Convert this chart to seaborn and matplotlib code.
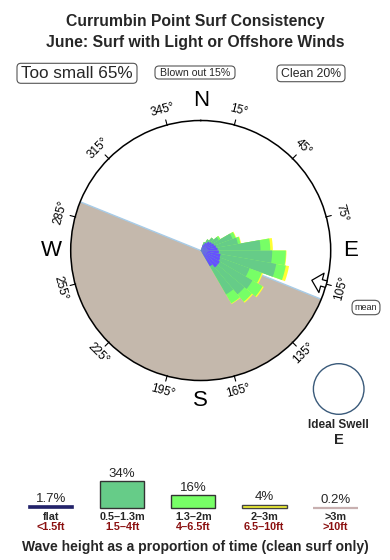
import numpy as np
import pandas as pd
import matplotlib
matplotlib.use("Agg")
import matplotlib.pyplot as plt
import seaborn as sns
from matplotlib.patches import FancyBboxPatch, Ellipse

# ---------------- data ----------------
title_lines = ["Currumbin Point Surf Consistency",
               "June: Surf with Light or Offshore Winds"]
status_labels = ["Too small 65%", "Blown out 15%", "Clean 20%"]

# swell direction bins (degrees, compass) and cumulative radii (fraction of rose radius)
dir_centers = [25, 35, 45, 55, 65, 75, 85, 95, 105, 115, 125, 135, 145]
r_flat  = [0.05, 0.07, 0.09, 0.10, 0.11, 0.12, 0.13, 0.14, 0.155, 0.16, 0.17, 0.17, 0.14]
r_small = [0.07, 0.10, 0.13, 0.16, 0.26, 0.29, 0.46, 0.55, 0.59, 0.40, 0.46, 0.44, 0.39]
r_mid   = [0.07, 0.10, 0.13, 0.175, 0.285, 0.31, 0.535, 0.655, 0.665, 0.50, 0.55, 0.515, 0.47]
r_big   = [0.07, 0.10, 0.13, 0.175, 0.29, 0.315, 0.555, 0.66, 0.69, 0.51, 0.56, 0.525, 0.475]

land_start, land_end = 112, 292
mean_dir = 105
ideal_label = "E"
tick_bearings = [15, 45, 75, 105, 135, 165, 195, 225, 255, 285, 315, 345]
cardinals = ["N", "E", "S", "W"]
cardinal_bearings = [0, 90, 180, 270]

legend_cats = ["flat", "0.5–1.3m", "1.3–2m", "2–3m", ">3m"]
legend_pct = [1.7, 34, 16, 4, 0.2]
legend_pct_labels = ["1.7%", "34%", "16%", "4%", "0.2%"]
legend_ft = ["<1.5ft", "1.5–4ft", "4–6.5ft", "6.5–10ft", ">10ft"]

# ---------------- style ----------------
sns.set_theme(style="white")
plt.rcParams['font.family'] = ['Liberation Sans', 'DejaVu Sans']

c_flat = "#6650FF"
c_small = "#66CC88"
c_mid = "#77FF66"
c_big = "#FFFF33"
c_huge = "#C8B0B0"
c_land = "#C4B8AC"
c_coast = "#A8CCE8"
c_ft = "#8B1010"
legend_colors = ["#22226A", c_small, c_mid, c_big, c_huge]
legend_edges = ["#22226A", "#333333", "#333333", "#444444", c_huge]

W, H = 390, 560
fig = plt.figure(figsize=(W / 100, H / 100), dpi=100)
fig.patch.set_facecolor("white")

# ---------------- rose (polar) ----------------
cx, cy, R = 200.7, 250.5, 130
ax = fig.add_axes([(cx - R) / W, (H - cy - R) / H, 2 * R / W, 2 * R / H], projection="polar")
ax.set_theta_zero_location("N")
ax.set_theta_direction(-1)
ax.set_ylim(0, 1)
ax.set_xticks([])
ax.set_yticks([])
ax.grid(False)
ax.set_facecolor("white")
ax.spines["polar"].set_color("black")
ax.spines["polar"].set_linewidth(1.1)

# land
land_w = np.deg2rad((land_end - land_start) % 360)
ax.bar(np.deg2rad(land_start), 1.0, width=land_w, bottom=0, align="edge",
       color=c_land, linewidth=0, zorder=1)
ax.plot([np.deg2rad(land_end), np.deg2rad(land_end), np.deg2rad(land_start)],
        [1.0, 0.0, 1.0], color=c_coast, lw=1.0, zorder=2)

# swell wedges
th = np.deg2rad(dir_centers)
bw = np.deg2rad(10)
for radii, col in [(r_big, c_big), (r_mid, c_mid), (r_small, c_small), (r_flat, c_flat)]:
    ax.bar(th, radii, width=bw, bottom=0, color=col, linewidth=0, zorder=3)

# ticks and labels
for b in tick_bearings:
    t = np.deg2rad(b)
    ax.plot([t, t], [0.995, 1.04], color="black", lw=0.8, clip_on=False, zorder=5)
    if 90 < b < 270:
        rot = 180 - b
    else:
        rot = -b if b <= 90 else 360 - b
    ax.text(t, 1.118, f"{b}°", rotation=rot, rotation_mode="anchor",
            ha="center", va="center", fontsize=8.5, color="black", clip_on=False)

for lab, b in zip(cardinals, cardinal_bearings):
    ax.text(np.deg2rad(b), 1.15, lab, ha="center", va="center", fontsize=16,
            color="black", clip_on=False)

# mean arrow
tm = np.deg2rad(mean_dir)
ax.annotate("", xy=(tm, 0.885), xytext=(tm, 1.0), zorder=6,
            arrowprops=dict(arrowstyle="simple,head_length=0.6,head_width=1.2,tail_width=0.4",
                            fc="white", ec="black", lw=0.9, shrinkA=0, shrinkB=0,
                            mutation_scale=12), annotation_clip=False)

# ---------------- overlay in pixel coords ----------------
fa = fig.add_axes([0, 0, 1, 1], facecolor="none")
fa.set_xlim(0, W)
fa.set_ylim(H, 0)
fa.axis("off")

fa.text(195, 21.7, title_lines[0], ha="center", va="center", fontsize=11.3, fontweight="bold")
fa.text(195, 42.7, title_lines[1], ha="center", va="center", fontsize=11.3, fontweight="bold")

boxes = [(17, 63.3, 137, 83.3, 12.3), (155, 66, 235, 79, 7.6), (277, 65, 345, 81.7, 8.8)]
for lab, (x0, y0, x1, y1, fs) in zip(status_labels, boxes):
    fa.add_patch(FancyBboxPatch((x0, y0), x1 - x0, y1 - y0,
                                boxstyle="round,pad=0,rounding_size=4",
                                fc="white", ec="#555555", lw=0.8))
    fa.text((x0 + x1) / 2, (y0 + y1) / 2 + 0.5, lab, ha="center", va="center", fontsize=fs)

fa.text(366, 307.5, "mean", ha="center", va="center", fontsize=6.5,
        bbox=dict(boxstyle="round,pad=0.3,rounding_size=0.6", fc="white", ec="#555555", lw=0.8))

fa.add_patch(Ellipse((338.7, 389), 50.6, 50.6, fc="white", ec="#3A5A7A", lw=1.0))
fa.text(338.7, 425, "Ideal Swell", ha="center", va="center", fontsize=8.5, fontweight="bold")
fa.text(338.7, 439.5, ideal_label, ha="center", va="center", fontsize=10.5, fontweight="bold")

# ---------------- legend bar chart (seaborn) ----------------
step = 71.1
lx0 = 51 - step / 2
base_y = 507.7
px_per_pct = 0.785
lax = fig.add_axes([lx0 / W, (H - base_y) / H, 5 * step / W, 34 * px_per_pct / H])
df = pd.DataFrame({"cat": legend_cats, "pct": legend_pct})
sns.barplot(data=df, x="cat", y="pct", hue="cat", palette=legend_colors,
            order=legend_cats, hue_order=legend_cats, width=0.626, legend=False,
            saturation=1, ax=lax)
lax.set_xlim(-0.5, 4.5)
lax.set_ylim(0, 34)
lax.axis("off")
for p, ec in zip(lax.patches, legend_edges):
    p.set_edgecolor(ec)
    p.set_linewidth(1.0)
    p.set_clip_on(False)
lax.patches[0].set_linewidth(1.2)
lax.patches[4].set_linewidth(1.6)

for i, (v, lab) in enumerate(zip(legend_pct, legend_pct_labels)):
    lax.annotate(lab, xy=(i, v), xytext=(0, 1), textcoords="offset points",
                 ha="center", va="bottom", fontsize=9.5, annotation_clip=False)
    xpix = lx0 + step * (i + 0.5)
    fa.text(xpix, 516.5, legend_cats[i], ha="center", va="center", fontsize=7.8,
            fontweight="bold")
    fa.text(xpix, 526.5, legend_ft[i], ha="center", va="center", fontsize=7.8,
            fontweight="bold", color=c_ft)

fa.text(195, 547, "Wave height as a proportion of time (clean surf only)",
        ha="center", va="center", fontsize=10, fontweight="bold")

fig.savefig("out.png", dpi=100, facecolor="white")
